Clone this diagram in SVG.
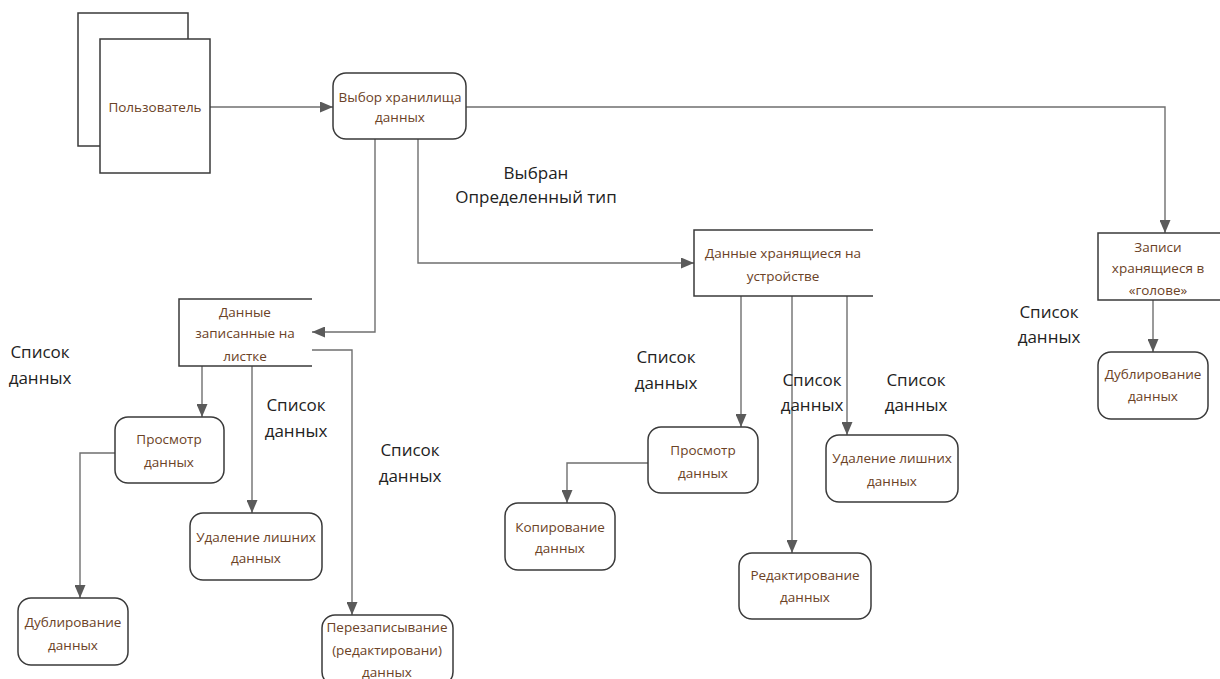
<svg xmlns="http://www.w3.org/2000/svg" width="1220" height="679" viewBox="0 0 1220 679">
<defs>
<style>
.bx{fill:#fff;stroke:#3a3a3a;stroke-width:1.5}
.ds{fill:none;stroke:#3a3a3a;stroke-width:1.5}
.t{font-family:"Open Sans","Noto Sans",sans-serif;font-size:13.5px;fill:#6b4226;text-anchor:middle}
.l{font-family:"Open Sans","Noto Sans",sans-serif;font-size:17px;fill:#222;text-anchor:middle}
.c{fill:none;stroke:#6f6f6f;stroke-width:1.4}
</style>
<marker id="ah" markerUnits="userSpaceOnUse" markerWidth="13" markerHeight="11" refX="13" refY="5.5" orient="auto">
<path d="M0,0 L13,5.5 L0,11 z" fill="#5a5a5a"/>
</marker>
</defs>
<rect width="1220" height="679" fill="#fff"/>

<g id="connectors">
<path class="c" d="M210,107 H333" marker-end="url(#ah)"/>
<path class="c" d="M466,107 H1165 V233" marker-end="url(#ah)"/>
<path class="c" d="M375,139 V332 H312" marker-end="url(#ah)"/>
<path class="c" d="M418,139 V263 H694" marker-end="url(#ah)"/>
<path class="c" d="M202,366 V417" marker-end="url(#ah)"/>
<path class="c" d="M252,366 V513" marker-end="url(#ah)"/>
<path class="c" d="M312,350 H352 V615" marker-end="url(#ah)"/>
<path class="c" d="M115,453 H80 V598" marker-end="url(#ah)"/>
<path class="c" d="M741,296 V427" marker-end="url(#ah)"/>
<path class="c" d="M792,296 V553" marker-end="url(#ah)"/>
<path class="c" d="M847,296 V435" marker-end="url(#ah)"/>
<path class="c" d="M648,463 H567 V503" marker-end="url(#ah)"/>
<path class="c" d="M1153,300 V352" marker-end="url(#ah)"/>
</g>

<g id="user">
<rect class="bx" x="78" y="13" width="110" height="133"/>
<rect class="bx" x="100" y="39" width="110" height="134"/>
<text class="t" x="155" y="112">Пользователь</text>
</g>

<g id="choose">
<rect class="bx" x="333" y="73" width="133" height="66" rx="13"/>
<text class="t" x="400" y="102">Выбор хранилища</text>
<text class="t" x="400" y="122">данных</text>
</g>

<g id="paper">
<path class="ds" d="M312,299 H179 V366 H312"/>
<text class="t" x="245" y="317">Данные</text>
<text class="t" x="245" y="338">записанные на</text>
<text class="t" x="245" y="361">листке</text>
</g>

<g id="device">
<path class="ds" d="M873,230 H694 V296 H873"/>
<text class="t" x="783" y="258">Данные хранящиеся на</text>
<text class="t" x="783" y="281">устройстве</text>
</g>

<g id="head">
<path class="ds" d="M1220,233 H1098 V300 H1220"/>
<text class="t" x="1158" y="252">Записи</text>
<text class="t" x="1158" y="273">хранящиеся в</text>
<text class="t" x="1158" y="295">«голове»</text>
</g>

<g id="dup-right">
<rect class="bx" x="1098" y="352" width="110" height="67" rx="13"/>
<text class="t" x="1153" y="379">Дублирование</text>
<text class="t" x="1153" y="401">данных</text>
</g>

<g id="view-left">
<rect class="bx" x="115" y="417" width="109" height="66" rx="13"/>
<text class="t" x="169" y="444">Просмотр</text>
<text class="t" x="169" y="467">данных</text>
</g>

<g id="del-left">
<rect class="bx" x="190" y="513" width="132" height="67" rx="13"/>
<text class="t" x="256" y="542">Удаление лишних</text>
<text class="t" x="256" y="563">данных</text>
</g>

<g id="dup-left">
<rect class="bx" x="18" y="598" width="110" height="67" rx="13"/>
<text class="t" x="73" y="627">Дублирование</text>
<text class="t" x="73" y="650">данных</text>
</g>

<g id="rewrite">
<rect class="bx" x="322" y="615" width="131" height="70" rx="13"/>
<text class="t" x="387" y="632">Перезаписывание</text>
<text class="t" x="387" y="655">(редактировани)</text>
<text class="t" x="387" y="677">данных</text>
</g>

<g id="view-mid">
<rect class="bx" x="648" y="427" width="110" height="66" rx="13"/>
<text class="t" x="703" y="455">Просмотр</text>
<text class="t" x="703" y="478">данных</text>
</g>

<g id="copy">
<rect class="bx" x="505" y="503" width="110" height="67" rx="13"/>
<text class="t" x="560" y="532">Копирование</text>
<text class="t" x="560" y="553">данных</text>
</g>

<g id="edit">
<rect class="bx" x="739" y="553" width="132" height="66" rx="13"/>
<text class="t" x="805" y="580">Редактирование</text>
<text class="t" x="805" y="602">данных</text>
</g>

<g id="del-mid">
<rect class="bx" x="826" y="435" width="132" height="67" rx="13"/>
<text class="t" x="892" y="463">Удаление лишних</text>
<text class="t" x="892" y="486">данных</text>
</g>

<g id="labels">
<text class="l" x="536" y="179">Выбран</text>
<text class="l" x="536" y="203">Определенный тип</text>
<text class="l" x="40" y="358">Список</text>
<text class="l" x="40" y="384">данных</text>
<text class="l" x="296" y="411">Список</text>
<text class="l" x="296" y="437">данных</text>
<text class="l" x="410" y="456">Список</text>
<text class="l" x="410" y="482">данных</text>
<text class="l" x="666" y="363">Список</text>
<text class="l" x="666" y="389">данных</text>
<text class="l" x="812" y="386">Список</text>
<text class="l" x="812" y="411">данных</text>
<text class="l" x="916" y="386">Список</text>
<text class="l" x="916" y="411">данных</text>
<text class="l" x="1049" y="318">Список</text>
<text class="l" x="1049" y="343">данных</text>
</g>
</svg>
